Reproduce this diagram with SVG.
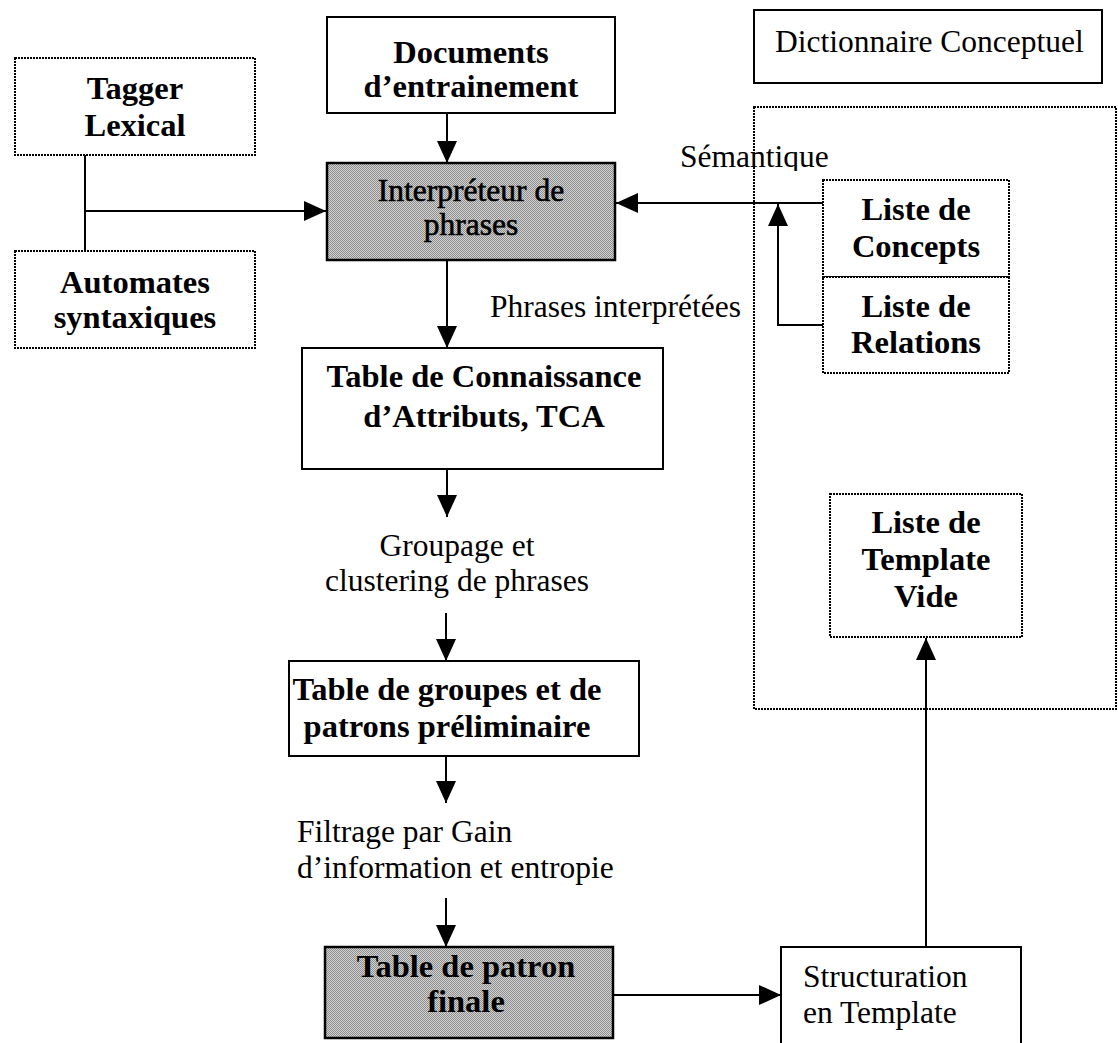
<svg xmlns="http://www.w3.org/2000/svg" width="1118" height="1043" viewBox="0 0 1118 1043">
  <style>
    .box { fill: #ffffff; stroke: #000000; stroke-width: 2; }
    .dot { fill: none; stroke: #000000; stroke-width: 2; stroke-dasharray: 2 1; }
    .dotw { fill: #ffffff; stroke: #000000; stroke-width: 2; stroke-dasharray: 2 1; }
    .shade { fill: url(#halftone); stroke: #000000; stroke-width: 2.5; }
    .t { font-family: "Liberation Serif", "Times New Roman", serif; font-size: 31.5px; fill: #000000; }
    .b { font-weight: bold; font-size: 32.5px; }
    .c { text-anchor: middle; }
    .conn { fill: none; stroke: #000000; stroke-width: 2; }
  </style>
  <defs>
    <pattern id="halftone" width="2" height="2" patternUnits="userSpaceOnUse">
      <rect width="2" height="2" fill="#d2d2d2"/>
      <rect width="1" height="1" fill="#8e8e8e"/>
      <rect x="1" y="1" width="1" height="1" fill="#8e8e8e"/>
    </pattern>
    <marker id="arrow" markerUnits="userSpaceOnUse" markerWidth="22" markerHeight="20" refX="22" refY="10" orient="auto">
      <path d="M0,0 L22,10 L0,20 Z" fill="#000000"/>
    </marker>
    <clipPath id="semClip">
      <rect x="660" y="130" width="200" height="41"/>
    </clipPath>
  </defs>

  <rect width="1118" height="1043" fill="#ffffff"/>

  <!-- dictionary container -->
  <g id="dictionnaire">
    <rect class="box" x="754" y="10" width="348" height="73"/>
    <text class="t" x="775" y="52">Dictionnaire Conceptuel</text>
  </g>
  <g id="dictionnaire-zone">
    <rect class="dot" x="754" y="107" width="362" height="602"/>
  </g>

  <!-- connectors -->
  <g id="connectors">
    <path class="conn" d="M85,155 L85,251"/>
    <path class="conn" d="M85,211 L326,211" marker-end="url(#arrow)"/>
    <path class="conn" d="M447,113 L447,163" marker-end="url(#arrow)"/>
    <path class="conn" d="M823,203 L616,203" marker-end="url(#arrow)"/>
    <path class="conn" d="M823,325 L778,325 L778,204" marker-end="url(#arrow)"/>
    <path class="conn" d="M447,261 L447,348" marker-end="url(#arrow)"/>
    <path class="conn" d="M447,469 L447,517" marker-end="url(#arrow)"/>
    <path class="conn" d="M446,613 L446,661" marker-end="url(#arrow)"/>
    <path class="conn" d="M446,756 L446,803" marker-end="url(#arrow)"/>
    <path class="conn" d="M446,898 L446,947" marker-end="url(#arrow)"/>
    <path class="conn" d="M613,995 L781,995" marker-end="url(#arrow)"/>
    <path class="conn" d="M926,947 L926,638" marker-end="url(#arrow)"/>
  </g>

  <g id="tagger">
    <rect class="dotw" x="15" y="58" width="240" height="97"/>
    <text class="t b c" x="135" y="99">Tagger</text>
    <text class="t b c" x="135" y="136">Lexical</text>
  </g>

  <g id="automates">
    <rect class="dotw" x="15" y="251" width="240" height="97"/>
    <text class="t b c" x="135" y="293">Automates</text>
    <text class="t b c" x="135" y="328">syntaxiques</text>
  </g>

  <g id="documents">
    <rect class="box" x="327" y="17" width="288" height="96"/>
    <text class="t b c" x="471" y="63">Documents</text>
    <text class="t b c" x="471" y="97">d’entrainement</text>
  </g>

  <g id="interpreteur">
    <rect class="shade" x="327" y="163" width="288" height="97"/>
    <text class="t c" x="471" y="201" style="stroke:#000;stroke-width:0.6">Interpréteur de</text>
    <text class="t c" x="471" y="235" style="stroke:#000;stroke-width:0.6">phrases</text>
  </g>

  <g id="semantique-label">
    <text class="t" x="680" y="167" clip-path="url(#semClip)">Sémantique</text>
  </g>

  <g id="concepts">
    <rect class="dotw" x="823" y="180" width="186" height="97"/>
    <text class="t b c" x="916" y="220">Liste de</text>
    <text class="t b c" x="916" y="257">Concepts</text>
  </g>

  <g id="relations">
    <rect class="dotw" x="823" y="277" width="186" height="96"/>
    <text class="t b c" x="916" y="317">Liste de</text>
    <text class="t b c" x="916" y="353">Relations</text>
  </g>

  <g id="phrases-label">
    <text class="t" x="490" y="317">Phrases interprétées</text>
  </g>

  <g id="tca">
    <rect class="box" x="302" y="348" width="361" height="121"/>
    <text class="t b c" x="484" y="387">Table de Connaissance</text>
    <text class="t b c" x="484" y="427">d’Attributs, TCA</text>
  </g>

  <g id="groupage-label">
    <text class="t c" x="457" y="556">Groupage et</text>
    <text class="t c" x="457" y="591">clustering de phrases</text>
  </g>

  <g id="groupes">
    <rect class="box" x="289" y="661" width="350" height="95"/>
    <text class="t b c" x="447" y="700">Table de groupes et de</text>
    <text class="t b c" x="447" y="737">patrons préliminaire</text>
  </g>

  <g id="filtrage-label">
    <text class="t" x="297" y="842">Filtrage par Gain</text>
    <text class="t" x="297" y="878">d’information et entropie</text>
  </g>

  <g id="patron-finale">
    <rect class="shade" x="325" y="947" width="288" height="91"/>
    <text class="t b c" x="466" y="977">Table de patron</text>
    <text class="t b c" x="466" y="1012">finale</text>
  </g>

  <g id="structuration">
    <rect class="box" x="781" y="947" width="240" height="100"/>
    <text class="t" x="803" y="987">Structuration</text>
    <text class="t" x="803" y="1023">en Template</text>
  </g>

  <g id="template-vide">
    <rect class="dotw" x="830" y="494" width="192" height="143"/>
    <text class="t b c" x="926" y="533">Liste de</text>
    <text class="t b c" x="926" y="570">Template</text>
    <text class="t b c" x="926" y="607">Vide</text>
  </g>
</svg>
